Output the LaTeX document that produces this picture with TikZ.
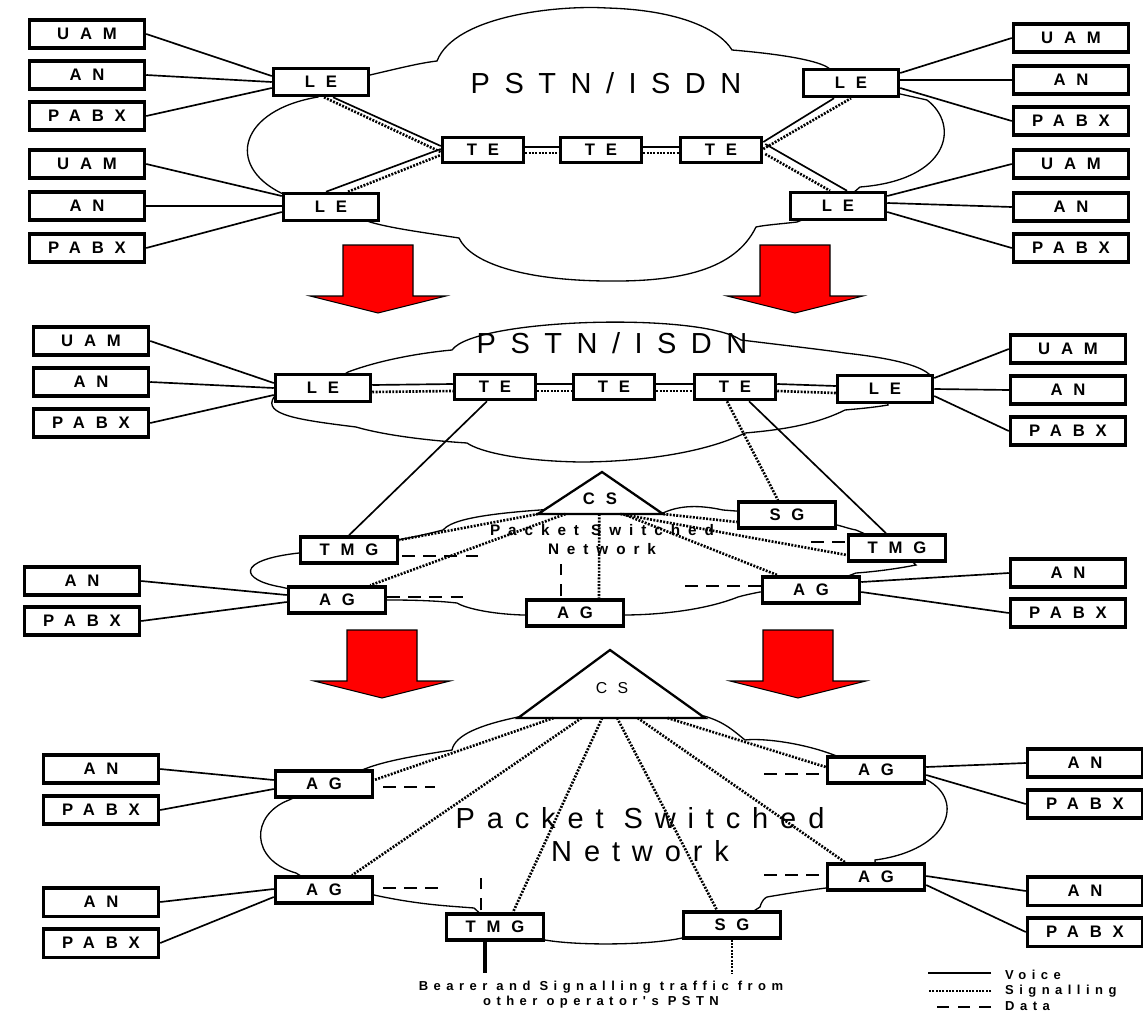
\documentclass[tikz,border=0pt]{standalone}
\usepackage{fontspec}
\setmainfont{Liberation Sans}
\newfontfamily\boxfont[LetterSpace=65]{Liberation Sans}
\newfontfamily\midfont[LetterSpace=52]{Liberation Sans}
\newfontfamily\pstnfont[LetterSpace=50]{Liberation Sans}
\newfontfamily\netfont[LetterSpace=41]{Liberation Sans}
\newfontfamily\notefont[LetterSpace=42]{Liberation Sans}
\usetikzlibrary{calc}

\begin{document}
\begin{tikzpicture}[x=0.02cm,y=-0.02cm]
\tikzstyle{box} = [draw,fill=white,line width=2pt,inner sep=0pt,font=\boxfont\bfseries\fontsize{9.5}{10}\selectfont]
\tikzstyle{acc} = [box,minimum width=2.3cm,minimum height=0.57cm]
\tikzstyle{le} = [box,minimum width=1.9cm,minimum height=0.54cm]
\tikzstyle{te} = [box,minimum width=1.62cm,minimum height=0.5cm]
\tikzstyle{gw} = [box,minimum width=1.94cm,minimum height=0.52cm]
\tikzstyle{cloudline} = [line width=0.75pt]
\tikzstyle{voice} = [line width=0.95pt]
\tikzstyle{sig} = [line width=1.5pt,dash pattern=on 1.1pt off 0.8pt]
\tikzstyle{data} = [line width=1.6pt,dash pattern=on 7pt off 5pt]
\tikzstyle{pstntxt} = [font=\pstnfont\fontsize{16.5}{18.7}\selectfont]
\tikzstyle{nettxt} = [font=\netfont\fontsize{16.5}{18.7}\selectfont,align=center]
\tikzstyle{smalltxt} = [font=\notefont\bfseries\fontsize{7.4}{8.5}\selectfont,align=center]
\useasboundingbox (0,0) rectangle (1143,1014);

% clouds
\draw[cloudline] (321,82) -- (370,75) .. controls (400,68) and (420,63) .. (437,61)
 .. controls (455,15) and (560,5) .. (607,8)
 .. controls (680,10) and (720,30) .. (732,50)
 .. controls (780,54) and (815,60) .. (827,67) -- (851,83) -- (927,100)
 .. controls (960,125) and (950,180) .. (860,187) -- (838,206) -- (797,222)
 .. controls (780,224) and (765,225) .. (756,227)
 .. controls (735,270) and (680,282) .. (605,281)
 .. controls (520,280) and (470,262) .. (459,238)
 .. controls (420,232) and (390,228) .. (370,222) -- (331,207) -- (281,193)
 .. controls (225,165) and (240,110) .. (318,97) -- cycle;
\draw[cloudline] (323,388) -- (348,372) .. controls (380,360) and (420,353) .. (452,350)
 .. controls (475,318) and (700,312) .. (741,340)
 .. controls (790,346) and (825,350) .. (845,353)
 .. controls (890,358) and (920,365) .. (930,375) -- (885,389) -- (888,405)
 .. controls (870,408) and (855,409) .. (845,410)
 .. controls (815,425) and (780,430) .. (745,433)
 .. controls (700,455) and (630,462) .. (580,462)
 .. controls (520,461) and (480,452) .. (467,443)
 .. controls (420,440) and (380,434) .. (356,427)
 .. controls (300,420) and (262,415) .. (274,397) -- cycle;
\draw[cloudline] (349,550) -- (397,540) .. controls (420,536) and (435,532) .. (443,530)
 .. controls (450,522) and (470,515) .. (540,510) -- (600,505) -- (663,513)
 .. controls (680,505) and (700,505) .. (723,510) -- (787,515) -- (837,525)
 .. controls (845,527) and (850,529) .. (856,530) -- (897,548) -- (916,565)
 .. controls (890,570) and (870,572) .. (856,573) -- (811,590) -- (760,592)
 .. controls (750,594) and (745,595) .. (738,597)
 .. controls (700,612) and (650,615) .. (623,615) -- (575,613) -- (523,615)
 .. controls (490,614) and (465,608) .. (457,603)
 .. controls (430,600) and (400,600) .. (387,600) -- (337,600) -- (281,587)
 .. controls (240,580) and (235,560) .. (299,553) -- cycle;
\draw[cloudline] (518,717) .. controls (480,725) and (455,735) .. (452,750)
 .. controls (420,755) and (390,760) .. (370,767) -- (324,784) -- (289,800)
 .. controls (250,815) and (250,860) .. (296,873) -- (324,890) -- (374,895)
 .. controls (420,905) and (450,906) .. (474,908) -- (495,927) -- (545,940)
 .. controls (580,946) and (650,945) .. (682,938) -- (732,925) -- (760,907)
 .. controls (762,900) and (765,898) .. (767,897)
 .. controls (790,893) and (810,890) .. (826,888) -- (876,877) -- (875,860)
 .. controls (950,850) and (965,800) .. (927,780) -- (876,770) -- (834,755)
 .. controls (800,742) and (760,738) .. (745,740)
 .. controls (735,732) and (725,722) .. (704,716) -- cycle;

% arrows
\foreach \ax/\ay in {378/245,795/245,382/630,798/630}
 \filldraw[fill=red,draw=black,line width=0.6pt] (\ax-35,\ay) -- (\ax+35,\ay) -- (\ax+35,\ay+51) -- (\ax+68,\ay+51) -- (\ax,\ay+68) -- (\ax-68,\ay+51) -- (\ax-35,\ay+51) -- cycle;

% PSTN/ISDN
\node[acc] (uamA) at (87,34) {UAM};
\node[acc] (anA) at (87,75) {AN};
\node[acc] (pabxA) at (87,116) {PABX};
\node[acc] (uamB) at (87,164) {UAM};
\node[acc] (anB) at (87,206) {AN};
\node[acc] (pabxB) at (87,248) {PABX};
\node[acc] (uamC) at (1071,38) {UAM};
\node[acc] (anC) at (1071,80) {AN};
\node[acc] (pabxC) at (1071,121) {PABX};
\node[acc] (uamD) at (1071,164) {UAM};
\node[acc] (anD) at (1071,207) {AN};
\node[acc] (pabxD) at (1071,248) {PABX};
\node[le] (leA) at (321,82) {LE};
\node[le] (leB) at (331,207) {LE};
\node[le] (leC) at (851,83) {LE};
\node[le] (leD) at (838,206) {LE};
\node[te] (teA) at (483,150) {TE};
\node[te] (teB) at (601,150) {TE};
\node[te] (teC) at (721,150) {TE};
\node[pstntxt] (pstnA) at (606,83) {PSTN/ISDN};

\draw[voice] (uamA.east) -- ($(leA.west)+(0,-6)$);
\draw[voice] (anA.east) -- (leA.west);
\draw[voice] (pabxA.east) -- ($(leA.west)+(0,6)$);
\draw[voice] (uamB.east) -- ($(leB.west)+(0,-11)$);
\draw[voice] (anB.east) -- ($(leB.west)+(0,-1)$);
\draw[voice] (pabxB.east) -- ($(leB.west)+(0,5)$);
\draw[voice] (uamC.west) -- ($(leC.east)+(0,-10)$);
\draw[voice] (anC.west) -- ($(leC.east)+(0,-3)$);
\draw[voice] (pabxC.west) -- ($(leC.east)+(0,5)$);
\draw[voice] (uamD.west) -- ($(leD.east)+(0,-10)$);
\draw[voice] (anD.west) -- ($(leD.east)+(0,-3)$);
\draw[voice] (pabxD.west) -- ($(leD.east)+(0,6)$);
\draw[voice] ($(leA.south)+(12,0)$) -- ($(teA.west)+(0,-4)$);
\draw[sig] ($(leA.south)+(3,0)$) -- ($(teA.west)+(0,2)$);
\draw[voice] ($(leB.north)+(-5,0)$) -- ($(teA.west)+(0,-1)$);
\draw[sig] ($(leB.north)+(17,0)$) -- ($(teA.west)+(0,5)$);
\draw[voice] ($(teA.east)+(0,-3)$) -- ($(teB.west)+(0,-3)$);
\draw[sig] ($(teA.east)+(0,3)$) -- ($(teB.west)+(0,3)$);
\draw[voice] ($(teB.east)+(0,-3)$) -- ($(teC.west)+(0,-3)$);
\draw[sig] ($(teB.east)+(0,3)$) -- ($(teC.west)+(0,3)$);
\draw[voice] ($(teC.east)+(0,-8)$) -- ($(leC.south)+(-17,0)$);
\draw[sig] ($(teC.east)+(0,-1)$) -- (leC.south);
\draw[voice] ($(teC.east)+(2,-6)$) -- ($(leD.north)+(9,0)$);
\draw[sig] ($(teC.east)+(2,4)$) -- ($(leD.north)+(-8,0)$);

% PSTN/ISDN with packet switched network
\node[acc] (uamE) at (91,341) {UAM};
\node[acc] (anE) at (91,382) {AN};
\node[acc] (pabxE) at (91,423) {PABX};
\node[le] (leE) at (323,388) {LE};
\node[te] (teD) at (495,387) {TE};
\node[te] (teE) at (614,387) {TE};
\node[te] (teF) at (735,387) {TE};
\node[le] (leF) at (885,389) {LE};
\node[acc] (uamF) at (1068,349) {UAM};
\node[acc] (anF) at (1068,390) {AN};
\node[acc] (pabxF) at (1068,431) {PABX};
\node[gw] (tmgA) at (349,550) {TMG};
\node[gw] (agA) at (337,600) {AG};
\node[gw] (agB) at (575,613) {AG};
\node[gw] (sgA) at (787,515) {SG};
\node[gw] (tmgB) at (897,548) {TMG};
\node[gw] (agC) at (811,590) {AG};
\node[acc] (anG) at (82,581) {AN};
\node[acc] (pabxG) at (82,621) {PABX};
\node[acc] (anH) at (1068,573) {AN};
\node[acc] (pabxH) at (1068,613) {PABX};
\node[pstntxt] (pstnB) at (612,343) {PSTN/ISDN};
\coordinate (csTopA) at (602,472);
\coordinate (csLA) at (538,514);
\coordinate (csRA) at (663,514);
\filldraw[fill=white,line width=1.3pt] (csTopA) -- (csRA) -- (csLA) -- cycle;
\node[font=\boxfont\bfseries\fontsize{9.5}{10}\selectfont] (csA) at (600,499) {CS};

\draw[voice] (uamE.east) -- ($(leE.west)+(0,-5)$);
\draw[voice] (anE.east) -- (leE.west);
\draw[voice] (pabxE.east) -- ($(leE.west)+(0,7)$);
\draw[voice] (uamF.west) -- ($(leF.east)+(0,-11)$);
\draw[voice] (anF.west) -- (leF.east);
\draw[voice] (pabxF.west) -- ($(leF.east)+(0,7)$);
\draw[voice] ($(leE.east)+(0,-3)$) -- ($(teD.west)+(0,-3)$);
\draw[sig] ($(leE.east)+(0,4)$) -- ($(teD.west)+(0,4)$);
\draw[voice] ($(teD.east)+(0,-3)$) -- ($(teE.west)+(0,-3)$);
\draw[sig] ($(teD.east)+(0,4)$) -- ($(teE.west)+(0,4)$);
\draw[voice] ($(teE.east)+(0,-3)$) -- ($(teF.west)+(0,-3)$);
\draw[sig] ($(teE.east)+(0,4)$) -- ($(teF.west)+(0,4)$);
\draw[voice] ($(teF.east)+(0,-3)$) -- ($(leF.west)+(0,-3)$);
\draw[sig] ($(teF.east)+(0,4)$) -- ($(leF.west)+(0,4)$);
\draw[voice] ($(teD.south)+(-8,0)$) -- (tmgA.north);
\draw[sig] ($(teF.south)+(-8,0)$) -- ($(sgA.north)+(-9,0)$);
\draw[voice] ($(teF.south)+(14,0)$) -- ($(tmgB.north)+(-11,0)$);
\draw[sig] (csLA) -- ($(tmgA.east)+(0,-10)$);
\draw[sig] ($(csLA)!0.22!(csRA)$) -- ($(agA.north east)+(-17,0)$);
\draw[sig] ($(csLA)!0.49!(csRA)$) -- ($(agB.north)+(24,0)$);
\draw[sig] (csRA) -- ($(sgA.west)+(0,7)$);
\draw[sig] ($(csLA)!0.66!(csRA)$) -- ($(tmgB.west)+(0,7)$);
\draw[sig] ($(csLA)!0.68!(csRA)$) -- ($(agC.north west)+(17,0)$);
\draw[data] ($(tmgA.east)+(3,6)$) -- ++(79,0);
\draw[data] ($(agA.east)+(0,-3)$) -- ++(82,0);
\draw[data] ($(agB.north)+(-14,-2)$) -- ++(0,-32);
\draw[data] ($(tmgB.west)+(-2,-6)$) -- ++(-41,0);
\draw[data] ($(agC.west)+(0,-4)$) -- ++(-76,0);
\draw[voice] (anG.east) -- ($(agA.west)+(0,-5)$);
\draw[voice] (pabxG.east) -- ($(agA.west)+(0,2)$);
\draw[voice] (anH.west) -- ($(agC.east)+(0,-8)$);
\draw[voice] (pabxH.west) -- ($(agC.east)+(0,2)$);
\node[align=center,font=\midfont\bfseries\fontsize{8.7}{10.8}\selectfont] (psnA) at (602,540) {Packet Switched\\Network};

% packet switched network
\node[acc] (anI) at (101,769) {AN};
\node[acc] (pabxI) at (101,810) {PABX};
\node[acc] (anJ) at (101,902) {AN};
\node[acc] (pabxJ) at (101,943) {PABX};
\node[gw] (agD) at (324,784) {AG};
\node[gw] (agE) at (324,890) {AG};
\node[gw] (tmgC) at (495,927) {TMG};
\node[gw] (sgB) at (732,925) {SG};
\node[gw] (agF) at (876,770) {AG};
\node[gw] (agG) at (876,877) {AG};
\node[acc] (anK) at (1085,763) {AN};
\node[acc] (pabxK) at (1085,804) {PABX};
\node[acc] (anL) at (1085,891) {AN};
\node[acc] (pabxL) at (1085,932) {PABX};
\coordinate (csTopB) at (610,650);
\coordinate (csLB) at (518,718);
\coordinate (csRB) at (705,718);
\filldraw[fill=white,line width=1.3pt] (csTopB) -- (csRB) -- (csLB) -- cycle;
\node[font=\boxfont\fontsize{9}{10}\selectfont] (csB) at (612,688) {CS};
\node[nettxt] (psnB) at (640,835) {Packet Switched\\Network};

\draw[voice] (anI.east) -- ($(agD.west)+(0,-4)$);
\draw[voice] (pabxI.east) -- ($(agD.west)+(0,5)$);
\draw[voice] (anJ.east) -- ($(agE.west)+(0,-1)$);
\draw[voice] (pabxJ.east) -- ($(agE.west)+(0,7)$);
\draw[voice] ($(agF.east)+(0,-3)$) -- (anK.west);
\draw[voice] ($(agF.east)+(0,5)$) -- (pabxK.west);
\draw[voice] ($(agG.east)+(0,-1)$) -- (anL.west);
\draw[voice] ($(agG.east)+(0,8)$) -- (pabxL.west);
\draw[sig] ($(csLB)!0.19!(csRB)$) -- ($(agD.east)+(0,-4)$);
\draw[sig] ($(csLB)!0.34!(csRB)$) -- ($(agE.north)+(28,0)$);
\draw[sig] ($(csLB)!0.45!(csRB)$) -- ($(tmgC.north)+(18,0)$);
\draw[sig] ($(csLB)!0.53!(csRB)$) -- ($(sgB.north)+(-15,0)$);
\draw[sig] ($(csLB)!0.64!(csRB)$) -- ($(agG.north)+(-31,0)$);
\draw[sig] ($(csLB)!0.80!(csRB)$) -- ($(agF.west)+(0,-3)$);
\draw[data] ($(agD.east)+(9,3)$) -- ++(52,0);
\draw[data] ($(agE.east)+(9,-2)$) -- ++(61,0);
\draw[data] ($(tmgC.north)+(-14,-2)$) -- ++(0,-32);
\draw[data] ($(agF.west)+(-7,4)$) -- ++(-59,0);
\draw[data] ($(agG.west)+(-7,-2)$) -- ++(-59,0);
\draw[line width=1.8pt] ($(tmgC.south)+(-10,0)$) -- ++(0,31);
\draw[sig] (sgB.south) -- ++(0,34);
\node[smalltxt] (note) at (601,995) {Bearer and Signalling traffic from\\other operator's PSTN};

% legend
\node[smalltxt,anchor=west] (lgVoice) at (999,975) {Voice};
\node[smalltxt,anchor=west] (lgSig) at (999,991) {Signalling};
\node[smalltxt,anchor=west] (lgData) at (999,1006) {Data};
\draw[line width=1.3pt] ($(lgVoice.west)+(-8,-2)$) -- ++(-63,0);
\draw[sig] ($(lgSig.west)+(-8,0)$) -- ++(-63,0);
\draw[data] ($(lgData.west)+(-8,1)$) -- ++(-63,0);
\end{tikzpicture}
\end{document}
